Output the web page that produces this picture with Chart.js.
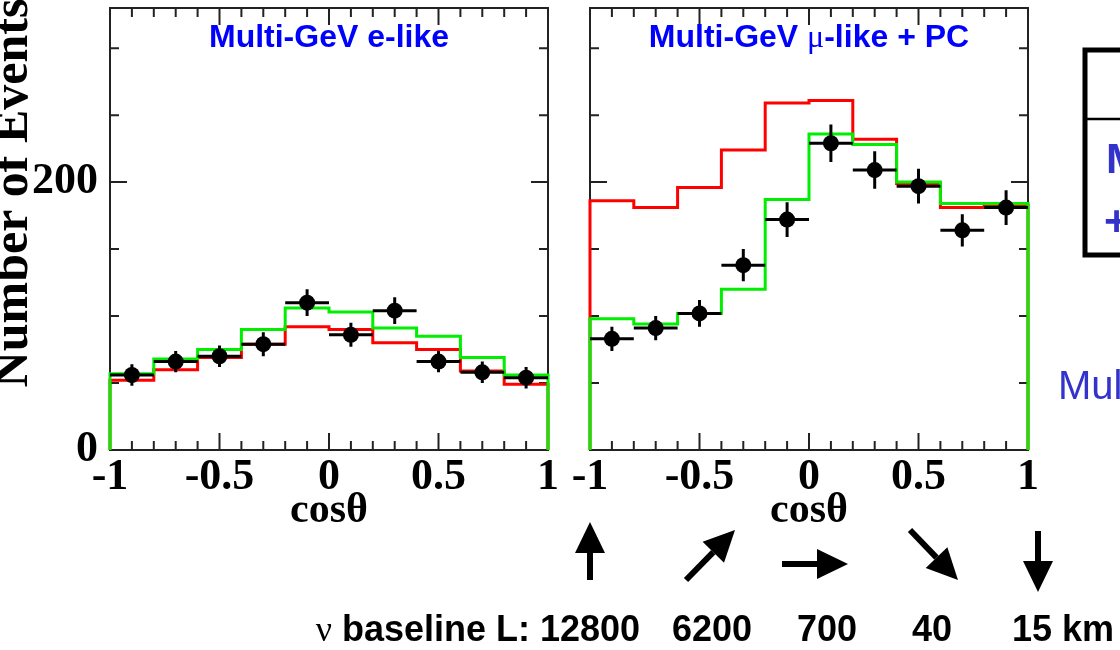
<!DOCTYPE html>
<html>
<head>
<meta charset="utf-8">
<title>Multi-GeV zenith angle distributions</title>
<script src="https://cdn.jsdelivr.net/npm/chart.js@4.4.1/dist/chart.umd.min.js"></script>
<style>
  html, body { margin: 0; padding: 0; background: #fff; }
  #page { position: relative; width: 1120px; height: 650px; overflow: hidden; background: #fff; }
  canvas { position: absolute; top: 0; }
  #eChart { left: 0; }
  #muChart { left: 560px; }
  #overlay { position: absolute; left: 0; top: 0; }
</style>
</head>
<body>
<div id="page">
  <canvas id="eChart" width="560" height="536"></canvas>
  <canvas id="muChart" width="560" height="536"></canvas>
  <svg id="overlay" width="1120" height="650" xmlns="http://www.w3.org/2000/svg"></svg>
</div>
<script>
// bins in cos(theta)
const binEdges = [-1, -0.8, -0.6, -0.4, -0.2, 0, 0.2, 0.4, 0.6, 0.8, 1];
const binCenters = [-0.9, -0.7, -0.5, -0.3, -0.1, 0.1, 0.3, 0.5, 0.7, 0.9];

// Multi-GeV e-like
const eData = [56, 66, 70, 79, 110, 86, 104, 66, 58, 54];
const eErrors = [8, 8, 8, 9, 10, 9, 10, 8, 8, 8];
const eNoOsc = [52, 60, 69, 79, 92, 90, 80, 75, 59, 49];
const eOsc = [57, 68, 75, 90, 106, 103, 91, 85, 69, 56];

// Multi-GeV mu-like + PC
const muData = [83, 91, 102, 138, 172, 229, 209, 197, 164, 181];
const muErrors = [9, 9, 10, 12, 13, 14, 14, 13, 12, 13];
const muNoOsc = [186, 181, 196, 224, 259, 261, 232, 199, 181, 183];
const muOsc = [98, 94, 102, 120, 187, 236, 228, 200, 184, 184];

// axis ticks
const xMajorTicks = [-1, -0.5, 0, 0.5, 1];
const xMinorTicks = [-0.9, -0.8, -0.7, -0.6, -0.4, -0.3, -0.2, -0.1, 0.1, 0.2, 0.3, 0.4, 0.6, 0.7, 0.8, 0.9];
const yLabelTicks = [0, 200];
const yMinorTicks = [50, 100, 150, 250, 300];
const yMax = 330;

// baseline annotation under the right panel
const baselineLabels = ['12800', '6200', '700', '40', '15 km'];

const SERIF = '"Liberation Serif", "Times New Roman", serif';
const SANS = '"Liberation Sans", Arial, sans-serif';

// histogram outline drawn as a stepped line from the bin edges
function stepPoints(values) {
  const last = binEdges.length - 1;
  const pts = [{ x: binEdges[0], y: 0 }];
  values.forEach((v, i) => pts.push({ x: binEdges[i], y: v }));
  pts.push({ x: binEdges[last], y: values[values.length - 1] });
  pts.push({ x: binEdges[last], y: 0 });
  return pts;
}

function histDataset(values, color, order) {
  return {
    data: stepPoints(values),
    stepped: 'before',
    borderColor: color,
    borderWidth: 3,
    pointRadius: 0,
    fill: false,
    clip: false,
    order: order,
  };
}

function dataDataset(values, errors) {
  return {
    data: binCenters.map((x, i) => ({ x: x, y: values[i] })),
    errors: errors,
    showLine: false,
    pointRadius: 8,
    pointBackgroundColor: '#000',
    pointBorderColor: '#000',
    pointBorderWidth: 0,
    clip: false,
    order: 0,
  };
}

// frame with inward ticks on all four sides
const framePlugin = {
  id: 'frame',
  beforeDatasetsDraw(chart) {
    const { ctx, chartArea: a, scales } = chart;
    const sx = scales.x, sy = scales.y;
    ctx.save();
    ctx.strokeStyle = '#222';
    ctx.lineWidth = 2;
    ctx.strokeRect(a.left, a.top, a.right - a.left, a.bottom - a.top);
    ctx.beginPath();
    const xTick = (v, len) => {
      const px = sx.getPixelForValue(v);
      ctx.moveTo(px, a.bottom); ctx.lineTo(px, a.bottom - len);
      ctx.moveTo(px, a.top); ctx.lineTo(px, a.top + len);
    };
    const yTick = (v, len) => {
      const py = sy.getPixelForValue(v);
      ctx.moveTo(a.left, py); ctx.lineTo(a.left + len, py);
      ctx.moveTo(a.right, py); ctx.lineTo(a.right - len, py);
    };
    xMajorTicks.forEach(v => xTick(v, 17));
    xMinorTicks.forEach(v => xTick(v, 9));
    yLabelTicks.forEach(v => yTick(v, 17));
    yMinorTicks.forEach(v => yTick(v, 9));
    ctx.stroke();
    ctx.restore();
  },
};

// data error bars: full bin width horizontally, +-err vertically
const errorBarPlugin = {
  id: 'errorBars',
  afterDatasetsDraw(chart) {
    const { ctx, scales } = chart;
    const sx = scales.x, sy = scales.y;
    ctx.save();
    ctx.strokeStyle = '#000';
    ctx.lineWidth = 3;
    chart.data.datasets.forEach(ds => {
      if (!ds.errors) return;
      ds.data.forEach((p, i) => {
        const half = (binEdges[i + 1] - binEdges[i]) / 2;
        const px = sx.getPixelForValue(p.x);
        const py = sy.getPixelForValue(p.y);
        ctx.beginPath();
        ctx.moveTo(sx.getPixelForValue(p.x - half), py);
        ctx.lineTo(sx.getPixelForValue(p.x + half), py);
        ctx.moveTo(px, sy.getPixelForValue(p.y + ds.errors[i]));
        ctx.lineTo(px, sy.getPixelForValue(p.y - ds.errors[i]));
        ctx.stroke();
      });
    });
    ctx.restore();
  },
};

function labelPlugin(titleParts, yTitle) {
  return {
    id: 'labels',
    afterDraw(chart) {
      const { ctx, chartArea: a } = chart;
      ctx.save();
      ctx.fillStyle = '#0000ff';
      ctx.textBaseline = 'alphabetic';
      ctx.textAlign = 'left';
      let total = 0;
      titleParts.forEach(p => { ctx.font = p.font; total += ctx.measureText(p.text).width; });
      let x = (a.left + a.right) / 2 - total / 2;
      titleParts.forEach(p => {
        ctx.font = p.font;
        ctx.fillText(p.text, x, 47);
        x += ctx.measureText(p.text).width;
      });
      if (yTitle) {
        ctx.fillStyle = '#000';
        ctx.font = 'bold 50px ' + SERIF;
        ctx.textAlign = 'center';
        ctx.translate(27, 193);
        ctx.rotate(-Math.PI / 2);
        ctx.fillText(yTitle, 0, 0);
      }
      ctx.restore();
    },
  };
}

function makeChart(canvasId, dataVals, errs, noOsc, osc, opts) {
  return new Chart(document.getElementById(canvasId), {
    type: 'line',
    data: {
      datasets: [
        dataDataset(dataVals, errs),
        histDataset(osc, '#00ee00', 1),
        histDataset(noOsc, '#ff0000', 2),
      ],
    },
    options: {
      responsive: false,
      animation: false,
      devicePixelRatio: 1,
      layout: { padding: { top: 7, right: opts.padRight, bottom: 0, left: 0 } },
      plugins: { legend: { display: false }, tooltip: { enabled: false } },
      scales: {
        x: {
          type: 'linear',
          min: -1,
          max: 1,
          grid: { display: false, drawTicks: false },
          border: { display: false },
          ticks: {
            stepSize: 0.5,
            autoSkip: false,
            maxRotation: 0,
            padding: 1,
            color: '#000',
            font: { family: SERIF, size: 44, weight: 'bold' },
            callback: (v) => (xMajorTicks.includes(v) ? String(v) : null),
          },
          title: {
            display: true,
            text: 'cosθ',
            color: '#000',
            padding: 0,
            font: { family: SERIF, size: 42, weight: 'bold' },
          },
          afterFit: (s) => {
            s.height = 86;
            s.paddingLeft = 0; s.paddingRight = 0; s.paddingTop = 0; s.paddingBottom = 0;
          },
        },
        y: {
          type: 'linear',
          min: 0,
          max: yMax,
          grid: { display: false, drawTicks: false },
          border: { display: false },
          ticks: {
            display: opts.yLabels,
            stepSize: 50,
            padding: 12,
            color: '#000',
            font: { family: SERIF, size: 44, weight: 'bold' },
            callback: (v) => (yLabelTicks.includes(v) ? String(v) : null),
          },
          afterFit: (s) => {
            s.width = opts.yWidth;
            s.paddingLeft = 0; s.paddingRight = 0; s.paddingTop = 0; s.paddingBottom = 0;
          },
        },
      },
    },
    plugins: [framePlugin, errorBarPlugin, labelPlugin(opts.title, opts.yTitle)],
  });
}

const titleFont = 'bold 32px ' + SANS;

makeChart('eChart', eData, eErrors, eNoOsc, eOsc, {
  padRight: 12,
  yWidth: 110,
  yLabels: true,
  yTitle: 'Number of Events',
  title: [{ text: 'Multi-GeV e-like', font: titleFont }],
});

makeChart('muChart', muData, muErrors, muNoOsc, muOsc, {
  padRight: 92,
  yWidth: 30,
  yLabels: false,
  yTitle: null,
  title: [
    { text: 'Multi-GeV ', font: titleFont },
    { text: 'μ', font: '32px ' + SERIF },
    { text: '-like + PC', font: titleFont },
  ],
});

// ---- annotations outside the plots (arrows, baseline text, cropped legend) ----
const NS = 'http://www.w3.org/2000/svg';
const svg = document.getElementById('overlay');

function svgEl(tag, attrs, text) {
  const e = document.createElementNS(NS, tag);
  Object.entries(attrs).forEach(([k, v]) => e.setAttribute(k, v));
  if (text !== undefined) e.textContent = text;
  svg.appendChild(e);
  return e;
}

function arrow(x1, y1, x2, y2) {
  const len = Math.hypot(x2 - x1, y2 - y1);
  const ux = (x2 - x1) / len, uy = (y2 - y1) / len;
  const headLen = 31, headHalf = 15;
  const bx = x2 - ux * headLen, by = y2 - uy * headLen;
  svgEl('line', { x1: x1, y1: y1, x2: bx, y2: by, stroke: '#000', 'stroke-width': 6 });
  const pts = [
    [x2, y2],
    [bx - uy * headHalf, by + ux * headHalf],
    [bx + uy * headHalf, by - ux * headHalf],
  ];
  svgEl('polygon', { points: pts.map(p => p.join(',')).join(' '), fill: '#000' });
}

// direction arrows (tail -> tip)
const arrowPos = [
  [590, 580, 590, 522],
  [686, 580, 735, 530],
  [782, 564, 848, 564],
  [910, 530, 958, 580],
  [1038, 531, 1038, 592],
];
arrowPos.forEach(a => arrow(...a));

const baseY = 641;
const lbl = svgEl('text', { x: 530, y: baseY, 'text-anchor': 'end', fill: '#000' });
const nu = document.createElementNS(NS, 'tspan');
nu.setAttribute('font-family', SERIF);
nu.setAttribute('font-size', '36');
nu.textContent = 'ν';
lbl.appendChild(nu);
const rest = document.createElementNS(NS, 'tspan');
rest.setAttribute('font-family', SANS);
rest.setAttribute('font-size', '36');
rest.setAttribute('font-weight', 'bold');
rest.textContent = ' baseline L:';
lbl.appendChild(rest);

const baselineX = [590, 712, 827, 932, 1012];
baselineLabels.forEach((t, i) => {
  svgEl('text', {
    x: baselineX[i], y: baseY,
    'text-anchor': i === baselineLabels.length - 1 ? 'start' : 'middle',
    'font-family': SANS, 'font-size': 36, 'font-weight': 'bold', fill: '#000',
  }, t);
});

// cropped legend box at the right edge
svgEl('path', { d: 'M 1140 50 H 1085 V 255 H 1140', fill: 'none', stroke: '#000', 'stroke-width': 5 });
svgEl('line', { x1: 1087, y1: 119, x2: 1125, y2: 119, stroke: '#000', 'stroke-width': 2.5 });
svgEl('text', { x: 1106, y: 173, 'font-family': SANS, 'font-size': 43, 'font-weight': 'bold', fill: '#3333cc' }, 'M');
svgEl('text', { x: 1104, y: 235, 'font-family': SANS, 'font-size': 43, 'font-weight': 'bold', fill: '#3333cc' }, '+');
svgEl('text', { x: 1058, y: 399, 'font-family': SANS, 'font-size': 40, fill: '#3333cc' }, 'Mul');
</script>
</body>
</html>
